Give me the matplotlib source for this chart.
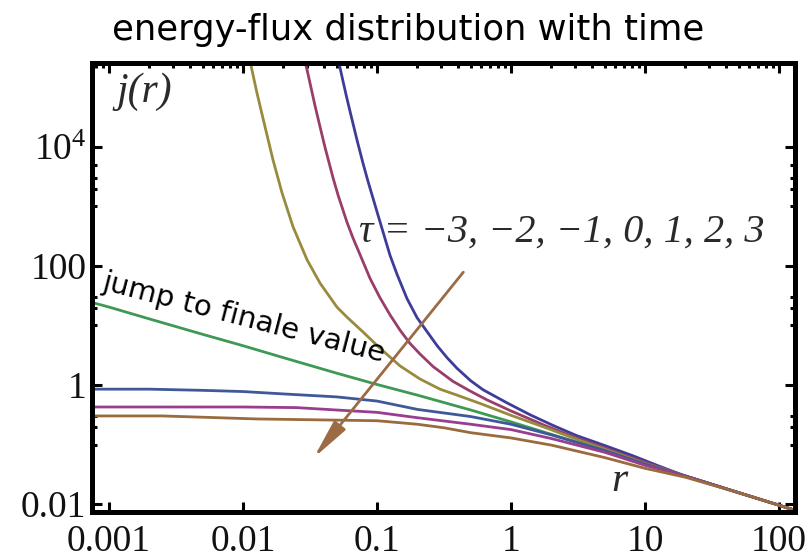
import matplotlib
matplotlib.use('Agg')
import matplotlib.pyplot as plt
from matplotlib.ticker import FixedLocator, FixedFormatter, NullFormatter

plt.rcParams['mathtext.fontset'] = 'custom'
plt.rcParams['mathtext.rm'] = 'Liberation Serif'

# values: r and j(r) for each tau
r_m3 = [0.0513, 0.0538, 0.0587, 0.0630, 0.0710, 0.0787, 0.0857, 0.1, 0.125, 0.141,
        0.1675, 0.199, 0.281, 0.333, 0.395, 0.501, 0.618, 0.933, 1.387, 2.06, 3.09,
        5.2, 8.13, 12.6, 20, 50, 100, 130]
j_m3 = [2.95e5, 1.82e5, 7.59e4, 3.89e4, 1.29e4, 5.25e3, 2.63e3, 813, 151, 72.4,
        28.2, 13.5, 4.57, 2.88, 1.91, 1.175, 0.832, 0.501, 0.316, 0.209, 0.141,
        0.0933, 0.0646, 0.0437, 0.0295, 0.0155, 0.00955, 0.0079]

r_m2 = [0.0288, 0.0301, 0.0344, 0.0376, 0.0409, 0.0470, 0.0512, 0.0597, 0.0662,
        0.0746, 0.0887, 0.105, 0.125, 0.1486, 0.176, 0.2094, 0.262, 0.369, 0.494,
        0.662, 0.984, 1.778, 3.16, 5.62, 10, 20, 50, 100, 130]
j_m2 = [2.88e5, 1.95e5, 5.01e4, 2.16e4, 9.89e3, 3.01e3, 1.55e3, 542, 294, 156,
        61.7, 29.5, 15.1, 8.32, 5.01, 3.31, 2.04, 1.15, 0.794, 0.562, 0.372, 0.210,
        0.126, 0.0794, 0.0501, 0.0295, 0.0155, 0.00955, 0.0079]

r_m1 = [0.01130, 0.01167, 0.0127, 0.01459, 0.01675, 0.01954, 0.0236, 0.0301, 0.0376,
        0.0502, 0.0597, 0.0787, 0.105, 0.1486, 0.2094, 0.295, 0.395, 0.587, 1,
        1.778, 3.16, 5.62, 10, 20, 50, 100, 130]
j_m1 = [2.8e5, 1.95e5, 8.13e4, 2.19e4, 6.03e3, 1.70e3, 457, 126, 51.3, 20.4, 13.8,
        7.76, 4.17, 2.09, 1.26, 0.851, 0.676, 0.490, 0.309, 0.195, 0.120, 0.0759,
        0.0479, 0.0295, 0.0155, 0.00955, 0.0079]

r_0 = [0.00074, 0.001, 0.002, 0.005, 0.01, 0.02, 0.05, 0.1, 0.2, 0.5, 1, 2, 5, 10,
       20, 50, 100, 130]
j_0 = [24.5, 20.4, 12.9, 7.1, 4.57, 2.88, 1.58, 1.02, 0.676, 0.38, 0.24, 0.148,
       0.079, 0.0468, 0.0295, 0.0155, 0.00955, 0.0079]

r_p1 = [0.00074, 0.002, 0.005, 0.01, 0.02, 0.05, 0.1, 0.2, 0.5, 1, 2, 5, 10, 20,
        50, 100, 130]
j_p1 = [0.851, 0.851, 0.813, 0.776, 0.708, 0.631, 0.537, 0.389, 0.295, 0.219,
        0.145, 0.079, 0.0468, 0.0295, 0.0155, 0.00955, 0.0079]

r_p2 = [0.00074, 0.01, 0.025, 0.05, 0.1, 0.2, 0.5, 1, 2, 5, 10, 20, 50, 100, 130]
j_p2 = [0.427, 0.427, 0.417, 0.380, 0.347, 0.282, 0.219, 0.178, 0.126, 0.0741,
        0.0447, 0.0295, 0.0155, 0.00955, 0.0079]

r_p3 = [0.00074, 0.0025, 0.0126, 0.1, 0.2, 0.316, 0.5, 1, 2, 5, 10, 20, 50, 100, 130]
j_p3 = [0.302, 0.302, 0.269, 0.251, 0.219, 0.191, 0.158, 0.129, 0.0977, 0.0603,
        0.0398, 0.0282, 0.0155, 0.00955, 0.0079]

curves = [(r_m3, j_m3), (r_m2, j_m2), (r_m1, j_m1), (r_0, j_0),
          (r_p1, j_p1), (r_p2, j_p2), (r_p3, j_p3)]
colors = ['#3d3d99', '#993d6b', '#998b3d', '#3d9954', '#3d5999', '#993d8f', '#996b3d']

x_ticks = [0.001, 0.01, 0.1, 1, 10, 100]
x_labels = ['0.001', '0.01', '0.1', '1', '10', '100']
y_ticks = [0.01, 1, 100, 1e4]
y_labels = ['0.01', '1', '100', r'$\mathregular{10^4}$']
y_minor = [0.1, 0.2, 0.3, 10, 20, 30, 1e3, 2e3, 3e3, 5e3]

# arrow from (r, j) to (r, j)
arrow_start = (0.454, 85.5)
arrow_end = (0.0327, 0.055)

fig = plt.figure(figsize=(8.11, 5.6), dpi=100)
ax = fig.add_axes([0.1134, 0.0857, 0.8669, 0.8018])

for (r, j), c in zip(curves, colors):
    ax.loglog(r, j, color=c, lw=2.0)

ax.set_xlim(10 ** -3.127, 10 ** 2.119)
ax.set_ylim(10 ** -2.134, 10 ** 5.41)

ax.xaxis.set_major_locator(FixedLocator(x_ticks))
ax.xaxis.set_major_formatter(FixedFormatter(x_labels))
ax.yaxis.set_major_locator(FixedLocator(y_ticks))
ax.yaxis.set_major_formatter(FixedFormatter(y_labels))
ax.yaxis.set_minor_locator(FixedLocator(y_minor))
ax.yaxis.set_minor_formatter(NullFormatter())
ax.xaxis.set_minor_formatter(NullFormatter())

for s in ax.spines.values():
    s.set_linewidth(3.6)
ax.tick_params(which='both', direction='in', top=True, right=True, width=2.2,
               colors='black', labelcolor='#111111')
ax.tick_params(which='major', length=7)
ax.tick_params(which='minor', length=3.5)
ax.tick_params(axis='x', which='minor', bottom=False, top=True)
ax.tick_params(axis='x', which='major', pad=9)
ax.tick_params(axis='y', which='major', pad=4)
for lab in ax.get_xticklabels() + ax.get_yticklabels():
    lab.set_fontfamily('Liberation Serif')
    lab.set_fontsize(27)

ax.annotate('', xy=arrow_end, xytext=arrow_start,
            arrowprops=dict(arrowstyle='-|>,head_length=1.0,head_width=0.18',
                            color='#9c6b45', lw=2.0, mutation_scale=24))

serif = dict(family='Liberation Serif', style='italic', color='#2a2a2a')
ax.text(0.074, 0.935, 'j(r)', transform=ax.transAxes, ha='center', va='center',
        fontsize=30, **serif)
ax.text(0.6686, 0.6236, 'τ = −3, −2, −1, 0, 1, 2, 3', transform=ax.transAxes,
        ha='center', va='center', fontsize=29, **serif)
ax.text(0.750, 0.07, 'r', transform=ax.transAxes, ha='center', va='center',
        fontsize=30, **serif)

ax.text(0.216, 0.432, 'jump to finale value', transform=ax.transAxes,
        ha='center', va='center', rotation=-14.5, rotation_mode='anchor',
        fontsize=21, family='DejaVu Sans', color='black')

fig.text(0.503, 1 - 30 / 560, 'energy-flux distribution with time',
         ha='center', va='center', fontsize=25.5, family='DejaVu Sans')

fig.savefig('out.png', dpi=100)
